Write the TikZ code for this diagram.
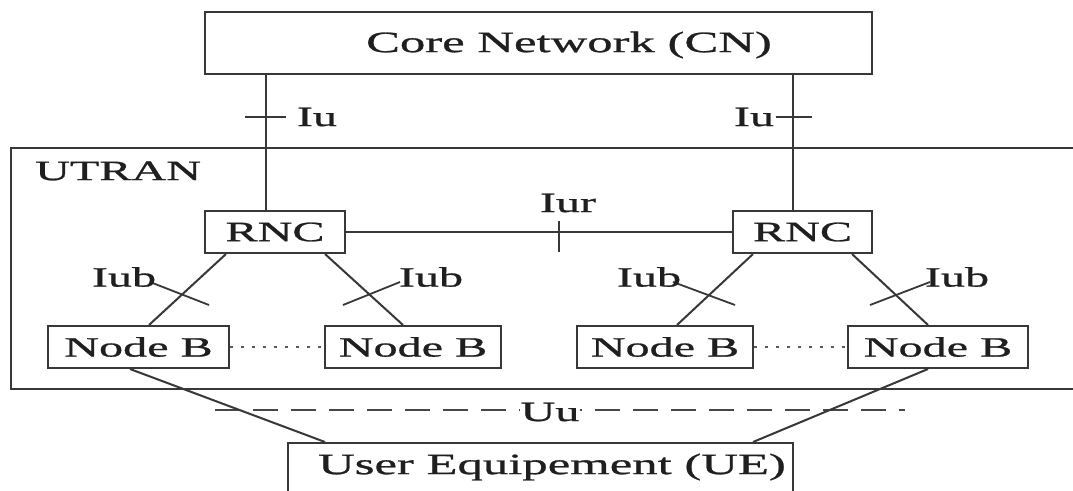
\documentclass[tikz,border=0pt]{standalone}
\usepackage{fontspec}
\setmainfont[FakeStretch=1.72,FakeBold=0.9]{Liberation Serif}
\begin{document}
\begin{tikzpicture}[x=1pt,y=-1pt,
  ln/.style={line width=2pt, draw=black!78},
  box/.style={ln, rectangle, inner sep=0pt, font=\fontsize{28}{30}\selectfont, text=black!88},
  lbl/.style={inner sep=0pt, font=\fontsize{28}{30}\selectfont, text=black!88},
  big/.style={inner sep=0pt, font=\fontsize{29.5}{31}\selectfont, text=black!88},
  tick/.style={line width=1.8pt, draw=black!78},
  dotline/.style={line width=1.6pt, draw=black!65, dash pattern=on 2.5pt off 8.5pt},
  dashline/.style={line width=1.8pt, draw=black!72, dash pattern=on 25pt off 13pt}]
\useasboundingbox (0,0) rectangle (1073,490);
\path[clip] (0,0) rectangle (1073,490);
\fill[white] (0,0) rectangle (1073,490);

% Core network
\node[box, minimum width=667pt, minimum height=62pt] (cn) at (538.5,43) {};
\node[big] (cntext) at (569,45) {Core Network (CN)};

% UTRAN container
\draw[ln] (1090,148) -- (11,148) -- (11,389) -- (1090,389);
\node[lbl, anchor=west] (utran) at (35,171) {UTRAN};

% RNCs
\node[box, minimum width=140pt, minimum height=42pt] (rncL) at (275,232) {RNC};
\node[box, minimum width=139pt, minimum height=42pt] (rncR) at (802.5,232) {RNC};

% Node Bs
\node[box, minimum width=181pt, minimum height=42pt] (nb1) at (138.5,347) {Node B};
\node[box, minimum width=176pt, minimum height=42pt] (nb2) at (413,347) {Node B};
\node[box, minimum width=176pt, minimum height=42pt] (nb3) at (665,347) {Node B};
\node[box, minimum width=180pt, minimum height=42pt] (nb4) at (938,347) {Node B};

% UE
\node[box, minimum width=505pt, minimum height=80pt, anchor=north] (ue) at (540.5,442) {};
\node[big] (uetext) at (552,467) {User Equipement (UE)};

% Iu links
\draw[ln] ([xshift=-9pt]rncL.north) -- ([xshift=-9pt]rncL.north |- cn.south);
\draw[ln] ([xshift=-9.5pt]rncR.north) -- ([xshift=-9.5pt]rncR.north |- cn.south);
\draw[tick] (245,117) -- (286,117);
\draw[tick] (776,117) -- (812,117);
\node[lbl] (iuL) at (317,117) {Iu};
\node[lbl] (iuR) at (754,117) {Iu};

% Iur link
\draw[ln] (rncL.east) -- (rncR.west);
\draw[tick] (559,221) -- (559,252);
\node[lbl] (iur) at (568,203) {Iur};

% Iub links
\draw[ln] ([xshift=-49pt]rncL.south) -- ([xshift=10.5pt]nb1.north);
\draw[ln] ([xshift=50pt]rncL.south) -- ([xshift=-10pt]nb2.north);
\draw[ln] ([xshift=-49.5pt]rncR.south) -- ([xshift=12pt]nb3.north);
\draw[ln] ([xshift=49.5pt]rncR.south) -- ([xshift=-10pt]nb4.north);
\draw[tick] (150,282) -- (209,305);
\draw[tick] (343,305) -- (400,282);
\draw[tick] (673,282) -- (735,305);
\draw[tick] (870,305) -- (930,282);
\node[lbl] (iub1) at (124,277) {Iub};
\node[lbl] (iub2) at (431,277) {Iub};
\node[lbl] (iub3) at (649,277) {Iub};
\node[lbl] (iub4) at (957,277) {Iub};

% dotted between Node Bs
\draw[dotline] (nb1.east) -- (nb2.west);
\draw[dotline] (nb3.east) -- (nb4.west);

% Uu
\coordinate (uuA) at (215,410);
\coordinate (uuB) at (905,410);
\draw[dashline] (uuA) -- (uuB);
\node[lbl, fill=white, inner xsep=1pt] (uu) at (550,412) {Uu};
\draw[ln] ([xshift=-8.5pt]nb1.south) -- ([xshift=-215.5pt]ue.north);
\draw[ln] ([xshift=-10pt]nb4.south) -- ([xshift=212.5pt]ue.north);
\end{tikzpicture}
\end{document}
